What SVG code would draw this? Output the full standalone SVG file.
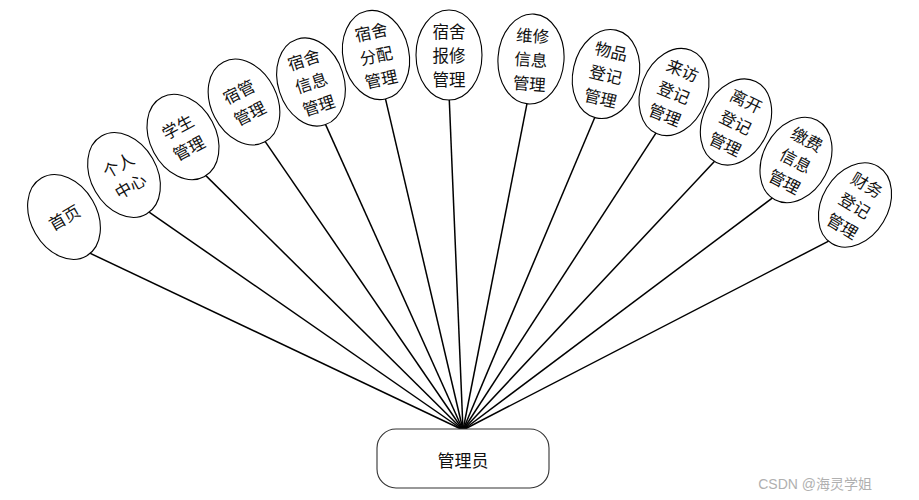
<svg xmlns="http://www.w3.org/2000/svg" width="919" height="500" viewBox="0 0 919 500">
<style>
.bg{fill:#ffffff}
.node ellipse{fill:#ffffff;stroke:#000000;stroke-width:1.1}
.node text{font-family:"Noto Sans CJK SC","Noto Sans",sans-serif;font-size:16.5px;fill:#111111;text-anchor:middle;dominant-baseline:central}
.conn line{stroke:#000000;stroke-width:1.5}
.hub rect{fill:#ffffff;stroke:#333333;stroke-width:1.1}
.hub text{font-family:"Noto Sans CJK SC","Noto Sans",sans-serif;font-size:17px;fill:#111111;text-anchor:middle;dominant-baseline:central}
.wm{font-family:"Liberation Sans","Noto Sans CJK SC",sans-serif;font-size:14px;fill:#b0b0b0;text-anchor:end}
</style>
<rect class="bg" x="0" y="0" width="919" height="500"/>
<g id="connectors" class="conn">
<line x1="463" y1="430" x2="83" y2="249.9"/>
<line x1="463" y1="430" x2="143" y2="207.9"/>
<line x1="463" y1="430" x2="200.8" y2="170.6"/>
<line x1="463" y1="430" x2="261.3" y2="135.9"/>
<line x1="463" y1="430" x2="322.7" y2="118.1"/>
<line x1="463" y1="430" x2="383.9" y2="92.2"/>
<line x1="463" y1="430" x2="449" y2="93"/>
<line x1="463" y1="430" x2="528.3" y2="96.9"/>
<line x1="463" y1="430" x2="597.5" y2="111"/>
<line x1="463" y1="430" x2="659.8" y2="127.2"/>
<line x1="463" y1="430" x2="719.3" y2="156.2"/>
<line x1="463" y1="430" x2="778.2" y2="193.6"/>
<line x1="463" y1="430" x2="835.4" y2="237.6"/>
</g>
<g id="n-home" class="node" transform="translate(64,217) rotate(-30)">
<ellipse rx="33" ry="45"/>
<text x="0" y="0">首页</text>
</g>
<g id="n-personal" class="node" transform="translate(124,175) rotate(-30)">
<ellipse rx="33" ry="45"/>
<text x="0" y="-12">个人</text>
<text x="0" y="12">中心</text>
</g>
<g id="n-student" class="node" transform="translate(183,137) rotate(-28)">
<ellipse rx="33" ry="45"/>
<text x="0" y="-12">学生</text>
<text x="0" y="12">管理</text>
</g>
<g id="n-dormadmin" class="node" transform="translate(244,102) rotate(-27)">
<ellipse rx="33" ry="45"/>
<text x="0" y="-12">宿管</text>
<text x="0" y="12">管理</text>
</g>
<g id="n-dorminfo" class="node" transform="translate(311,82) rotate(-18)">
<ellipse rx="33" ry="45"/>
<text x="0" y="-24">宿舍</text>
<text x="0" y="0">信息</text>
<text x="0" y="24">管理</text>
</g>
<g id="n-dormassign" class="node" transform="translate(376,55) rotate(-12)">
<ellipse rx="33" ry="45"/>
<text x="0" y="-24">宿舍</text>
<text x="0" y="0">分配</text>
<text x="0" y="24">管理</text>
</g>
<g id="n-dormrepair" class="node" transform="translate(449,55) rotate(0)">
<ellipse rx="33" ry="45"/>
<text x="0" y="-24">宿舍</text>
<text x="0" y="0">报修</text>
<text x="0" y="24">管理</text>
</g>
<g id="n-repairinfo" class="node" transform="translate(531,59) rotate(4)">
<ellipse rx="33" ry="45"/>
<text x="0" y="-24">维修</text>
<text x="0" y="0">信息</text>
<text x="0" y="24">管理</text>
</g>
<g id="n-items" class="node" transform="translate(606,74) rotate(13)">
<ellipse rx="33" ry="45"/>
<text x="0" y="-24">物品</text>
<text x="0" y="0">登记</text>
<text x="0" y="24">管理</text>
</g>
<g id="n-visit" class="node" transform="translate(674,92) rotate(22)">
<ellipse rx="33" ry="45"/>
<text x="0" y="-24">来访</text>
<text x="0" y="0">登记</text>
<text x="0" y="24">管理</text>
</g>
<g id="n-leave" class="node" transform="translate(736,122) rotate(26)">
<ellipse rx="33" ry="45"/>
<text x="0" y="-24">离开</text>
<text x="0" y="0">登记</text>
<text x="0" y="24">管理</text>
</g>
<g id="n-fees" class="node" transform="translate(796,160) rotate(28)">
<ellipse rx="33" ry="45"/>
<text x="0" y="-24">缴费</text>
<text x="0" y="0">信息</text>
<text x="0" y="24">管理</text>
</g>
<g id="n-finance" class="node" transform="translate(855,205) rotate(31)">
<ellipse rx="33" ry="45"/>
<text x="0" y="-24">财务</text>
<text x="0" y="0">登记</text>
<text x="0" y="24">管理</text>
</g>
<g id="n-admin" class="hub">
<rect x="377" y="429" width="172" height="59" rx="19" ry="19"/>
<text x="463" y="459">管理员</text>
</g>
<text class="wm" x="872" y="489">CSDN @海灵学姐</text>
</svg>
